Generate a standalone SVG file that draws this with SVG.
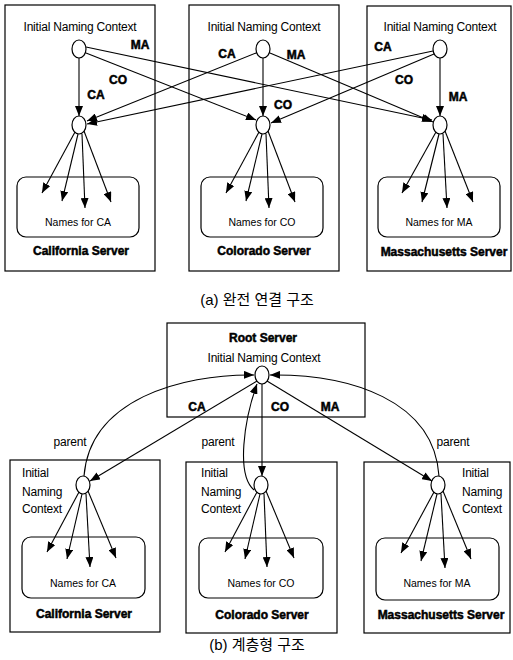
<svg xmlns="http://www.w3.org/2000/svg" width="513" height="660" viewBox="0 0 513 660">
<defs>
<marker id="ah" markerWidth="10" markerHeight="8" refX="10" refY="4" orient="auto" markerUnits="userSpaceOnUse">
<path d="M0,0 L10,4 L0,8 z" fill="#000"/>
</marker>
<style>
.box{fill:#fff;stroke:#000;stroke-width:1.2}
.inner{fill:none;stroke:#000;stroke-width:1.2}
.node{fill:#fff;stroke:#000;stroke-width:1.2}
.ln{fill:none;stroke:#000;stroke-width:1.1;marker-end:url(#ah)}
.t{font-family:"Liberation Sans",Arial,sans-serif;font-size:12px;fill:#000;letter-spacing:-0.2px}
.c{text-anchor:middle}
.nm{font-family:"Liberation Sans",Arial,sans-serif;font-size:10.5px;fill:#000;text-anchor:middle}
.srv{font-family:"Liberation Sans",Arial,sans-serif;font-size:12px;font-weight:bold;fill:#000;stroke:#000;stroke-width:0.5;text-anchor:middle}
.lb{font-family:"Liberation Sans",Arial,sans-serif;font-size:12px;font-weight:bold;fill:#000;stroke:#000;stroke-width:0.5;text-anchor:middle}
.cap{font-family:"Liberation Sans","Noto Sans CJK KR",sans-serif;font-size:15px;fill:#000;text-anchor:middle}
</style>
</defs>
<rect width="513" height="660" fill="#fff"/>

<!-- (a) full connection -->
<g id="a-california">
<rect class="box" x="5" y="5" width="150" height="266"/>
<text class="t c" x="80" y="31">Initial Naming Context</text>
<ellipse class="node" cx="79" cy="49" rx="7" ry="9"/>
<ellipse class="node" cx="79" cy="125" rx="7" ry="9"/>
<rect class="inner" x="17" y="177" width="122" height="60" rx="9"/>
<text class="nm" x="78" y="226">Names for CA</text>
<text class="srv" x="81" y="255">California Server</text>
</g>
<g id="a-colorado">
<rect class="box" x="189" y="5" width="150" height="266"/>
<text class="t c" x="264" y="31">Initial Naming Context</text>
<ellipse class="node" cx="263" cy="49" rx="7" ry="9"/>
<ellipse class="node" cx="263" cy="125" rx="7" ry="9"/>
<rect class="inner" x="201" y="177" width="122" height="60" rx="9"/>
<text class="nm" x="262" y="226">Names for CO</text>
<text class="srv" x="264" y="255">Colorado Server</text>
</g>
<g id="a-massachusetts">
<rect class="box" x="367" y="6" width="144" height="265"/>
<text class="t c" x="440" y="31">Initial Naming Context</text>
<ellipse class="node" cx="440" cy="49" rx="7" ry="9"/>
<ellipse class="node" cx="440" cy="125" rx="7" ry="9"/>
<rect class="inner" x="378" y="177" width="122" height="60" rx="9"/>
<text class="nm" x="439" y="226">Names for MA</text>
<text class="srv" x="444" y="256">Massachusetts Server</text>
</g>

<g id="a-connectors">
<line class="ln" x1="79" y1="58" x2="79" y2="116"/>
<line class="ln" x1="86" y1="53" x2="256" y2="120"/>
<line class="ln" x1="86" y1="47" x2="432" y2="120"/>
<line class="ln" x1="256" y1="53" x2="87" y2="121"/>
<line class="ln" x1="263" y1="58" x2="263" y2="116"/>
<line class="ln" x1="270" y1="53" x2="433" y2="122"/>
<line class="ln" x1="433" y1="51" x2="87" y2="124"/>
<line class="ln" x1="434" y1="54" x2="271" y2="123"/>
<line class="ln" x1="440" y1="58" x2="440" y2="116"/>
<line class="ln" x1="75" y1="132" x2="42" y2="193"/>
<line class="ln" x1="78" y1="134" x2="62" y2="201"/>
<line class="ln" x1="82" y1="134" x2="85" y2="208"/>
<line class="ln" x1="84" y1="131" x2="111" y2="202"/>
<line class="ln" x1="259" y1="132" x2="226" y2="193"/>
<line class="ln" x1="262" y1="134" x2="246" y2="201"/>
<line class="ln" x1="266" y1="134" x2="269" y2="208"/>
<line class="ln" x1="268" y1="131" x2="295" y2="202"/>
<line class="ln" x1="436" y1="132" x2="402" y2="193"/>
<line class="ln" x1="439" y1="134" x2="422" y2="202"/>
<line class="ln" x1="443" y1="134" x2="447" y2="208"/>
<line class="ln" x1="445" y1="131" x2="473" y2="202"/>
</g>
<g id="a-labels">
<text class="lb" x="140" y="49">MA</text>
<text class="lb" x="118" y="84">CO</text>
<text class="lb" x="96" y="99">CA</text>
<text class="lb" x="227" y="58">CA</text>
<text class="lb" x="296" y="59">MA</text>
<text class="lb" x="283" y="109">CO</text>
<text class="lb" x="383" y="51">CA</text>
<text class="lb" x="404" y="84">CO</text>
<text class="lb" x="458" y="101">MA</text>
</g>
<text class="cap" x="257" y="305">(a) 완전 연결 구조</text>

<!-- (b) hierarchical -->
<g id="b-root">
<rect class="box" x="167" y="323" width="198" height="94"/>
<text class="srv" x="263" y="342">Root Server</text>
<text class="t c" x="264" y="362">Initial Naming Context</text>
<ellipse class="node" cx="262" cy="375" rx="7" ry="9"/>
</g>
<g id="b-california">
<rect class="box" x="10" y="460" width="150" height="172"/>
<text class="t" x="22" y="477">Initial</text>
<text class="t" x="22" y="496">Naming</text>
<text class="t" x="22" y="513">Context</text>
<ellipse class="node" cx="83" cy="485" rx="7" ry="9"/>
<rect class="inner" x="22" y="537" width="123" height="61" rx="9"/>
<text class="nm" x="83" y="587">Names for CA</text>
<text class="srv" x="84" y="618">California Server</text>
</g>
<g id="b-colorado">
<rect class="box" x="186" y="462" width="151" height="171"/>
<text class="t" x="201" y="477">Initial</text>
<text class="t" x="201" y="496">Naming</text>
<text class="t" x="201" y="513">Context</text>
<ellipse class="node" cx="261" cy="485" rx="7" ry="9"/>
<rect class="inner" x="199" y="538" width="124" height="60" rx="9"/>
<text class="nm" x="261" y="587">Names for CO</text>
<text class="srv" x="262" y="619">Colorado Server</text>
</g>
<g id="b-massachusetts">
<rect class="box" x="364" y="462" width="146" height="171"/>
<text class="t" x="462" y="477">Initial</text>
<text class="t" x="462" y="496">Naming</text>
<text class="t" x="462" y="513">Context</text>
<ellipse class="node" cx="438" cy="485" rx="7" ry="9"/>
<rect class="inner" x="376" y="538" width="123" height="62" rx="9"/>
<text class="nm" x="437" y="587">Names for MA</text>
<text class="srv" x="441" y="619">Massachusetts Server</text>
</g>

<g id="b-connectors">
<line class="ln" x1="257" y1="381" x2="90" y2="481"/>
<line class="ln" x1="262" y1="384" x2="262" y2="476"/>
<line class="ln" x1="267" y1="381" x2="432" y2="481"/>
<path class="ln" d="M84,476 C90,400 180,374 254,375"/>
<path class="ln" d="M439,476 C434,400 350,374 270,375"/>
<path class="ln" d="M254,490 C236,475 244,420 257,384"/>
<line class="ln" x1="79" y1="492" x2="47" y2="552"/>
<line class="ln" x1="82" y1="494" x2="67" y2="559"/>
<line class="ln" x1="86" y1="494" x2="90" y2="567"/>
<line class="ln" x1="88" y1="491" x2="116" y2="558"/>
<line class="ln" x1="257" y1="492" x2="225" y2="552"/>
<line class="ln" x1="260" y1="494" x2="245" y2="559"/>
<line class="ln" x1="264" y1="494" x2="267" y2="567"/>
<line class="ln" x1="266" y1="491" x2="294" y2="558"/>
<line class="ln" x1="434" y1="492" x2="401" y2="553"/>
<line class="ln" x1="437" y1="494" x2="421" y2="561"/>
<line class="ln" x1="441" y1="494" x2="445" y2="568"/>
<line class="ln" x1="443" y1="491" x2="471" y2="559"/>
</g>
<g id="b-labels">
<text class="lb" x="197" y="411">CA</text>
<text class="lb" x="280" y="411">CO</text>
<text class="lb" x="330" y="411">MA</text>
<text class="t c" x="70" y="446">parent</text>
<text class="t c" x="218" y="446">parent</text>
<text class="t c" x="453" y="446">parent</text>
</g>
<text class="cap" x="257" y="650">(b) 계층형 구조</text>
</svg>
